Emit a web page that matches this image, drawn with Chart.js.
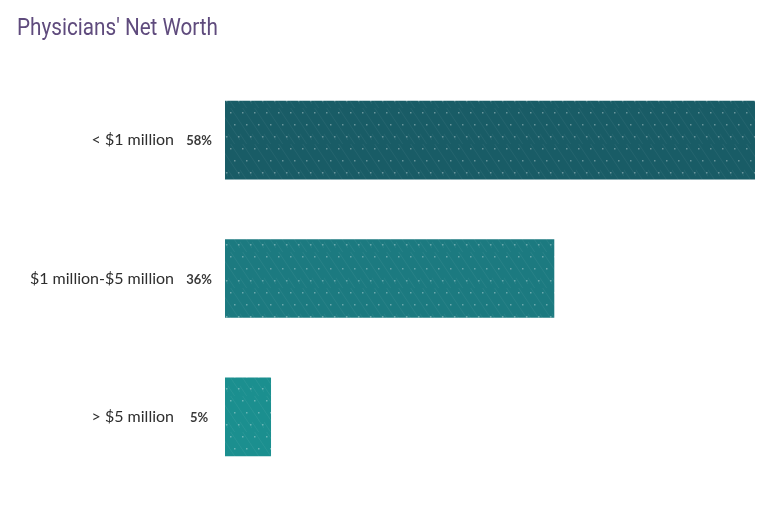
<!DOCTYPE html>
<html>
<head>
<meta charset="utf-8">
<script src="https://cdn.jsdelivr.net/npm/chart.js@4.4.0/dist/chart.umd.min.js"></script>
<style>
  html, body { margin: 0; padding: 0; background: #ffffff; overflow: hidden; }
  #wrap { position: relative; width: 768px; height: 523px; }
</style>
</head>
<body>
<div id="wrap"><canvas id="netWorthChart"></canvas></div>
<script>
// Datos del gráfico
const categorias = ['< $1 million', '$1 million-$5 million', '> $5 million'];
const porcentajes = [58, 36, 5];
const etiquetasPct = ['58%', '36%', '5%'];
const titulo = "Physicians' Net Worth";

// Colores base de cada barra (de oscuro a claro)
const coloresBarra = ['#195c66', '#1c7a80', '#1b8f8f'];

// Textura de puntos y líneas diagonales sobre cada barra
function crearPatron(base) {
    const tile = document.createElement('canvas');
    tile.width = 12;
    tile.height = 36;
    const c = tile.getContext('2d');
    c.fillStyle = base;
    c.fillRect(0, 0, 12, 36);
    // líneas diagonales muy tenues
    c.strokeStyle = 'rgba(255,255,255,0.06)';
    c.lineWidth = 1;
    c.beginPath();
    c.moveTo(-12, -4); c.lineTo(12, 32);
    c.moveTo(0, -4); c.lineTo(24, 32);
    c.moveTo(-12, 8); c.lineTo(12, 44);
    c.stroke();
    // puntos escalonados
    c.fillStyle = 'rgba(255,255,255,0.35)';
    c.fillRect(2, 4, 1.5, 1.5);
    c.fillRect(6, 16, 1.5, 1.5);
    c.fillRect(10, 28, 1.5, 1.5);
    return document.getElementById('netWorthChart').getContext('2d').createPattern(tile, 'repeat');
}

// Título condensado (no hay Roboto Condensed instalado: se comprime en horizontal)
const tituloCondensado = {
    id: 'tituloCondensado',
    afterDraw(chart) {
        const ctx = chart.ctx;
        ctx.save();
        ctx.font = '24px Roboto, sans-serif';
        ctx.fillStyle = '#5f4b7d';
        ctx.textBaseline = 'alphabetic';
        const ancho = ctx.measureText(titulo).width;
        const escala = 201 / ancho;
        ctx.translate(17, 35);
        ctx.scale(escala, 1);
        ctx.fillText(titulo, 0, 0);
        ctx.restore();
    }
};

// Plugin para dibujar el porcentaje entre la etiqueta y la barra
const etiquetaPorcentaje = {
    id: 'etiquetaPorcentaje',
    afterDatasetsDraw(chart) {
        const ctx = chart.ctx;
        const meta = chart.getDatasetMeta(0);
        ctx.save();
        ctx.font = 'bold 13px Lato, "Open Sans", sans-serif';
        ctx.fillStyle = '#3a3a3a';
        ctx.textAlign = 'center';
        ctx.textBaseline = 'middle';
        meta.data.forEach((bar, i) => {
            ctx.fillText(etiquetasPct[i], 199, bar.y + 1);
        });
        ctx.restore();
    }
};

new Chart(document.getElementById('netWorthChart'), {
    type: 'bar',
    data: {
        labels: categorias,
        datasets: [{
            data: porcentajes,
            backgroundColor: coloresBarra.map(crearPatron),
            borderWidth: 0,
            barThickness: 78
        }]
    },
    options: {
        indexAxis: 'y',
        responsive: true,
        maintainAspectRatio: false,
        animation: false,
        layout: { padding: { top: 71, right: 13, bottom: 37, left: 0 } },
        scales: {
            x: {
                display: false,
                min: 0,
                max: 58
            },
            y: {
                afterFit(scale) {
                    // ancho fijo del eje; el padding de los ticks no debe encoger el área vertical
                    scale.width = 225;
                    scale.paddingTop = 0;
                    scale.paddingBottom = 0;
                },
                grid: { display: false },
                border: { display: false },
                ticks: {
                    padding: 43,
                    color: '#2e2e2e',
                    font: { family: 'Lato, "Open Sans", sans-serif', size: 16 }
                }
            }
        },
        plugins: {
            legend: { display: false },
            tooltip: { enabled: false },
            title: { display: false }
        }
    },
    plugins: [etiquetaPorcentaje, tituloCondensado]
});
</script>
</body>
</html>
